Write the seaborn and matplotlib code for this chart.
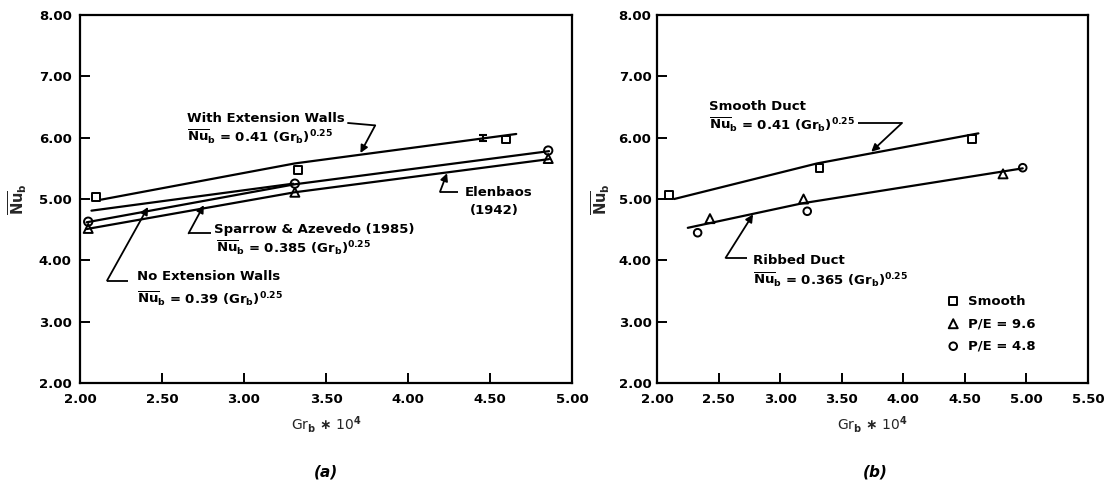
import numpy as np
import pandas as pd
import seaborn as sns
import matplotlib
matplotlib.use("Agg")
import matplotlib.pyplot as plt

# ---------------- data ----------------
# Panel (a)
a_smooth_x = [2.10, 3.33, 4.60]
a_smooth_y = [5.03, 5.47, 5.97]
a_circle_x = [2.05, 3.31, 4.855]
a_circle_y = [4.63, 5.25, 5.79]
a_tri_x = [2.05, 3.31, 4.855]
a_tri_y = [4.52, 5.11, 5.66]
a_err_x = [4.455]
a_err_y = [5.99]
a_err = [0.05]

a_withext_x = [2.13, 3.31, 4.66]
a_withext_y = [4.99, 5.58, 6.06]
a_noext_x = [2.07, 3.30]
a_noext_y = [4.81, 5.25]
a_circline_x = [2.04, 3.31, 4.86]
a_circline_y = [4.62, 5.24, 5.78]
a_triline_x = [2.04, 3.31, 4.86]
a_triline_y = [4.51, 5.11, 5.65]

# Panel (b)
b_smooth_x = [2.10, 3.32, 4.56]
b_smooth_y = [5.06, 5.50, 5.98]
b_tri_x = [2.43, 3.19, 4.81]
b_tri_y = [4.68, 5.00, 5.41]
b_circ_x = [2.33, 3.22, 4.97]
b_circ_y = [4.45, 4.80, 5.51]

b_smoothline_x = [2.14, 3.30, 4.61]
b_smoothline_y = [5.00, 5.58, 6.07]
b_ribline_x = [2.25, 3.18, 4.97]
b_ribline_y = [4.53, 4.93, 5.50]

yticks = [2, 3, 4, 5, 6, 7, 8]
a_xticks = [2.0, 2.5, 3.0, 3.5, 4.0, 4.5, 5.0]
b_xticks = [2.0, 2.5, 3.0, 3.5, 4.0, 4.5, 5.0, 5.5]

legend_labels = ["Smooth", "P/E = 9.6", "P/E = 4.8"]

# ---------------- style ----------------
sns.set_theme(style="white")
plt.rcParams["font.family"] = ["DejaVu Sans"]
plt.rcParams.update({
    "font.weight": "bold",
    "mathtext.fontset": "custom",
    "mathtext.rm": "DejaVu Sans:bold",
    "mathtext.it": "DejaVu Sans:bold",
    "mathtext.bf": "DejaVu Sans:bold",
    "axes.linewidth": 1.6,
    "axes.edgecolor": "black",
    "text.color": "black",
    "xtick.color": "black",
    "ytick.color": "black",
})

FS = 9.5
fig = plt.figure(figsize=(11.07, 4.93), dpi=100)
axa = fig.add_axes([80 / 1107, 0.2231, 492 / 1107, 0.7465])
axb = fig.add_axes([657 / 1107, 0.2231, 431 / 1107, 0.7465])

LW = 1.6


def line(ax, x, y):
    sns.lineplot(x=x, y=y, ax=ax, color="black", lw=LW, sort=False,
                 estimator=None, legend=False)


def pts(ax, x, y, marker, s, label=None):
    sns.scatterplot(x=x, y=y, ax=ax, marker=marker, s=s,
                    facecolor="none", edgecolor="black", linewidth=1.4,
                    label=label, legend=False, zorder=3)


def leader(ax, path, tip):
    xs = [p[0] for p in path]
    ys = [p[1] for p in path]
    ax.plot(xs, ys, color="black", lw=1.3, solid_capstyle="butt")
    ax.annotate("", xy=tip, xytext=path[-1],
                arrowprops=dict(arrowstyle="-|>", color="black", lw=1.3,
                                mutation_scale=11, shrinkA=0, shrinkB=0))


def formula(c):
    return (r"$\overline{\mathrm{Nu}}_\mathrm{b}$ = " + c +
            r" (Gr$_\mathrm{b}$)$^{0.25}$")


# ---------------- panel (a) ----------------
line(axa, a_withext_x, a_withext_y)
line(axa, a_noext_x, a_noext_y)
line(axa, a_circline_x, a_circline_y)
line(axa, a_triline_x, a_triline_y)
pts(axa, a_smooth_x, a_smooth_y, "s", 32)
pts(axa, a_circle_x, a_circle_y, "o", 36)
pts(axa, a_tri_x, a_tri_y, "^", 42)
axa.errorbar(a_err_x, a_err_y, yerr=a_err, fmt="none", ecolor="black",
             elinewidth=1.5, capsize=3, capthick=1.5)

axa.text(2.652, 6.32, "With Extension Walls", fontsize=FS, va="center", ha="left")
axa.text(2.652, 6.02, formula("0.41"), fontsize=FS, va="center", ha="left")
leader(axa, [(3.63, 6.24), (3.80, 6.20)], (3.71, 5.75))

axa.text(4.343, 5.10, "Elenbaos", fontsize=FS, va="center", ha="left")
axa.text(4.528, 4.82, "(1942)", fontsize=FS, va="center", ha="center")
leader(axa, [(4.305, 5.117), (4.195, 5.117)], (4.238, 5.42))

axa.text(2.819, 4.51, "Sparrow & Azevedo (1985)", fontsize=FS, va="center", ha="left")
axa.text(2.83, 4.20, formula("0.385"), fontsize=FS, va="center", ha="left")
leader(axa, [(2.797, 4.44), (2.662, 4.44)], (2.755, 4.90))

axa.text(2.35, 3.74, "No Extension Walls", fontsize=FS, va="center", ha="left")
axa.text(2.35, 3.38, formula("0.39"), fontsize=FS, va="center", ha="left")
leader(axa, [(2.293, 3.67), (2.165, 3.67)], (2.415, 4.87))

# ---------------- panel (b) ----------------
line(axb, b_smoothline_x, b_smoothline_y)
line(axb, b_ribline_x, b_ribline_y)
pts(axb, b_smooth_x, b_smooth_y, "s", 32, legend_labels[0])
pts(axb, b_tri_x, b_tri_y, "^", 42, legend_labels[1])
pts(axb, b_circ_x, b_circ_y, "o", 30, legend_labels[2])

axb.text(2.422, 6.515, "Smooth Duct", fontsize=FS, va="center", ha="left")
axb.text(2.422, 6.21, formula("0.41"), fontsize=FS, va="center", ha="left")
leader(axb, [(3.63, 6.24), (3.99, 6.24)], (3.74, 5.77))

axb.text(2.78, 3.99, "Ribbed Duct", fontsize=FS, va="center", ha="left")
axb.text(2.78, 3.68, formula("0.365"), fontsize=FS, va="center", ha="left")
leader(axb, [(2.73, 4.04), (2.557, 4.04)], (2.78, 4.75))

axb.legend(loc="upper left", bbox_to_anchor=(0.672, 0.24), frameon=False,
           fontsize=FS, handlelength=1.0, handletextpad=0.6,
           labelspacing=0.72, borderpad=0, borderaxespad=0)

# ---------------- axes formatting ----------------
for ax, xt, xlim in [(axa, a_xticks, (2.0, 5.0)), (axb, b_xticks, (2.0, 5.5))]:
    ax.set_xlim(*xlim)
    ax.set_ylim(2.0, 8.0)
    ax.set_xticks(xt)
    ax.set_yticks(yticks)
    ax.set_xticklabels([f"{v:.2f}" for v in xt])
    ax.set_yticklabels([f"{v:.2f}" for v in yticks])
    ax.tick_params(direction="in", length=7, width=1.4, labelsize=FS,
                   top=False, right=False, bottom=True, left=True)
    ax.tick_params(axis="x", pad=7)
    ax.set_xlabel(r"Gr$_\mathrm{b}$ $\ast$ 10$^4$", fontsize=FS + 0.5, labelpad=6)
    for sp in ax.spines.values():
        sp.set_visible(True)
        sp.set_linewidth(1.6)
        sp.set_color("black")
    ax.grid(False)

axa.tick_params(axis="y", pad=6)
axb.tick_params(axis="y", pad=4)
axa.set_ylabel(r"$\overline{\mathrm{Nu}}_\mathrm{b}$", fontsize=FS + 1, labelpad=7)
axb.set_ylabel(r"$\overline{\mathrm{Nu}}_\mathrm{b}$", fontsize=FS + 1, labelpad=5)

fig.text(326 / 1107, 1 - 472 / 493, "(a)", fontsize=FS + 1.5, style="italic",
         ha="center", va="center")
fig.text(875 / 1107, 1 - 472 / 493, "(b)", fontsize=FS + 1.5, style="italic",
         ha="center", va="center")

fig.savefig("out.png", dpi=100)
